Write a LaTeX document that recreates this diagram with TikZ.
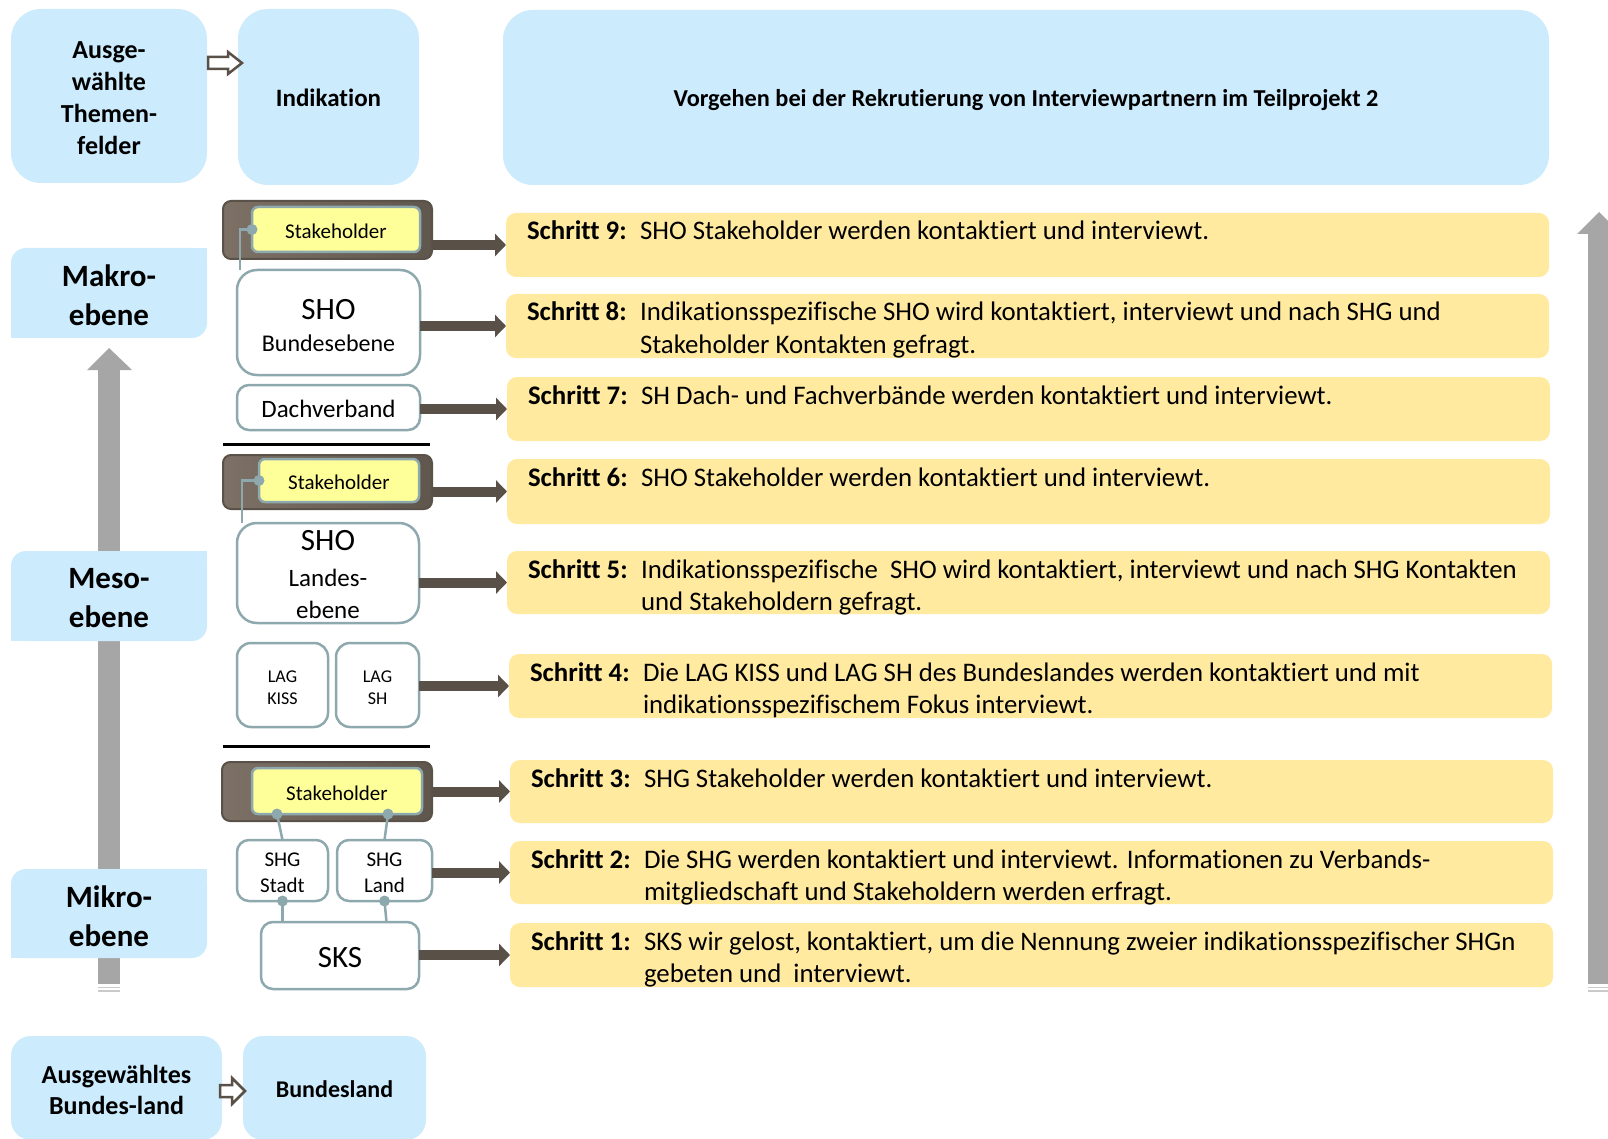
\documentclass[tikz,border=0pt]{standalone}
\usepackage{fontspec}
\setmainfont{Carlito}[Ligatures={NoCommon,NoRare}]
\usetikzlibrary{arrows.meta,calc}
\definecolor{lblue}{HTML}{CCEBFD}
\definecolor{stepy}{HTML}{FFEAA0}
\definecolor{stky}{HTML}{FFFF99}
\definecolor{tealg}{HTML}{8EA9AE}
\definecolor{brnA}{HTML}{7D7166}
\definecolor{brnB}{HTML}{5F564D}
\definecolor{brnD}{HTML}{5A5148}
\definecolor{darr}{HTML}{595047}
\definecolor{garr}{HTML}{A6A6A6}
\newcommand{\fsz}[2]{\fontsize{#1}{#2}\selectfont}
\begin{document}
\begin{tikzpicture}[x=1pt,y=-1pt,
 every node/.style={inner sep=0pt, outer sep=0pt},
 bx/.style={anchor=north west},
 tx/.style={align=center, anchor=center},
 lb/.style={bx, fill=lblue, rounded corners=30pt},
 lvl/.style={bx, fill=lblue, rounded corners=15pt, minimum width=196pt, minimum height=90pt},
 lvltx/.style={tx, font=\bfseries\fsz{31}{39}, yshift=-2.5pt},
 stepbox/.style={anchor=north west, fill=stepy, rounded corners=10pt, minimum width=1043pt, minimum height=63pt},
 lbl/.style={anchor=base west, font=\bfseries\fsz{26.8}{32}},
 dsc/.style={anchor=base west, font=\fsz{26.8}{32}},
 wbox/.style={bx, draw=tealg, line width=2.5pt, fill=white, rounded corners=14pt},
 outerst/.style={anchor=north west, left color=brnA, right color=brnB, draw=brnD, line width=2pt, rounded corners=8pt},
 innerst/.style={bx, fill=stky, draw=tealg, line width=2.5pt, rounded corners=6pt},
 sttx/.style={tx, font=\fsz{21}{25}, yshift=-2pt},
 bigarr/.style={draw=darr, line width=10pt, -{Triangle[length=11pt,width=22pt]}},
 conn/.style={draw=tealg, line width=2.5pt},
 hollow/.style={draw=darr, fill=white, line width=2.5pt, line join=miter},
 sepline/.style={draw=black, line width=3pt},
]
\path[use as bounding box] (0,0) rectangle (1608,1139);
\clip (0,0) rectangle (1608,1139);
\fill[white] (0,0) rectangle (1608,1139);

% gray vertical arrows
\fill[garr] (98,370) rectangle (120,984);
\fill[garr] (87,370) -- (109,348) -- (132,370) -- cycle;
\draw[garr!60, line width=1.2pt] (98,987.5) -- (120,987.5) (98,991) -- (120,991);
\fill[garr] (1588,234) rectangle (1610,984);
\fill[garr] (1577,234) -- (1599,212) -- (1621,234) -- cycle;
\draw[garr!60, line width=1.2pt] (1588,987.5) -- (1610,987.5) (1588,991) -- (1610,991);

% top row
\node[lb, minimum width=196pt, minimum height=174pt] (themen) at (11,9) {};
\node[tx, font=\bfseries\fsz{26}{32}, yshift=-2pt] (thement) at (themen) {Ausge-\\wählte\\Themen-\\felder};
\node[lb, minimum width=181pt, minimum height=176pt] (indik) at (238,9) {};
\node[tx, font=\bfseries\fsz{25}{30}, yshift=-1pt] (indikt) at (indik) {Indikation};
\node[lb, minimum width=1046pt, minimum height=175pt] (vorg) at (503,10) {};
\node[tx, font=\bfseries\fsz{24.3}{30}, yshift=-3pt] (vorgt) at (vorg) {Vorgehen bei der Rekrutierung von Interviewpartnern im Teilprojekt 2};
\draw[hollow] (208,57) -- (228,57) -- (228,52) -- (242,63) -- (228,74) -- (228,69) -- (208,69) -- cycle;

% level boxes
\node[lvl] (makro) at (11,248) {};
\node[lvl] (meso) at (11,551) {};
\node[lvl, minimum height=89pt] (mikro) at (11,869) {};
\foreach \n in {makro,meso,mikro}{
  \fill[lblue] (\n.north east) rectangle ++(-16,16);
  \fill[lblue] (\n.south west) rectangle ++(16,-16);
}
\node[lvltx] (makrot) at (makro) {Makro-\\ebene};
\node[lvltx] (mesot) at (meso) {Meso-\\ebene};
\node[lvltx] (mikrot) at (mikro) {Mikro-\\ebene};

% bottom row
\node[lb, minimum width=211pt, minimum height=104pt, rounded corners=20pt] (ausgbl) at (11,1036) {};
\node[tx, font=\bfseries\fsz{26}{31}, yshift=-1.5pt] (ausgblt) at (ausgbl) {Ausgewähltes\\Bundes-land};
\node[lb, minimum width=183pt, minimum height=104pt, rounded corners=20pt] (bland) at (243,1036) {};
\node[tx, font=\bfseries\fsz{24}{30}, yshift=-1pt] (blandt) at (bland) {Bundesland};
\draw[hollow] (220,1085) -- (232,1085) -- (232,1078) -- (245,1091) -- (232,1104) -- (232,1097) -- (220,1097) -- cycle;

% step boxes
\node[stepbox, minimum height=64pt] (s9) at (506,213) {};
\node[stepbox, minimum height=64pt] (s8) at (506,294) {};
\node[stepbox, minimum height=64pt] (s7) at (507,377) {};
\node[stepbox, minimum height=65pt] (s6) at (507,459) {};
\node[stepbox] (s5) at (507,551) {};
\node[stepbox, minimum height=64pt] (s4) at (509,654) {};
\node[stepbox] (s3) at (510,760) {};
\node[stepbox] (s2) at (510,841) {};
\node[stepbox, minimum height=64pt] (s1) at (510,923) {};

\node[lbl] (l9) at ($(s9.north west)+(21,27)$) {Schritt 9:};
\node[dsc] (d9) at ($(s9.north west)+(134,27)$) {SHO Stakeholder werden kontaktiert und interviewt.};
\node[lbl] (l8) at ($(s8.north west)+(21,27)$) {Schritt 8:};
\node[dsc] (d8a) at ($(s8.north west)+(134,27)$) {Indikationsspezifische SHO wird kontaktiert, interviewt und nach SHG und};
\node[dsc] (d8b) at ($(s8.north west)+(134,59)$) {Stakeholder Kontakten gefragt.};
\node[lbl] (l7) at ($(s7.north west)+(21,27)$) {Schritt 7:};
\node[dsc] (d7) at ($(s7.north west)+(134,27)$) {SH Dach- und Fachverbände werden kontaktiert und interviewt.};
\node[lbl] (l6) at ($(s6.north west)+(21,27)$) {Schritt 6:};
\node[dsc] (d6) at ($(s6.north west)+(134,27)$) {SHO Stakeholder werden kontaktiert und interviewt.};
\node[lbl] (l5) at ($(s5.north west)+(21,27)$) {Schritt 5:};
\node[dsc] (d5a) at ($(s5.north west)+(134,27)$) {Indikationsspezifische\ \ SHO wird kontaktiert, interviewt und nach SHG Kontakten};
\node[dsc] (d5b) at ($(s5.north west)+(134,59)$) {und Stakeholdern gefragt.};
\node[lbl] (l4) at ($(s4.north west)+(21,27)$) {Schritt 4:};
\node[dsc] (d4a) at ($(s4.north west)+(134,27)$) {Die LAG KISS und LAG SH des Bundeslandes werden kontaktiert und mit};
\node[dsc] (d4b) at ($(s4.north west)+(134,59)$) {indikationsspezifischem Fokus interviewt.};
\node[lbl] (l3) at ($(s3.north west)+(21,27)$) {Schritt 3:};
\node[dsc] (d3) at ($(s3.north west)+(134,27)$) {SHG Stakeholder werden kontaktiert und interviewt.};
\node[lbl] (l2) at ($(s2.north west)+(21,27)$) {Schritt 2:};
\node[dsc] (d2a) at ($(s2.north west)+(134,27)$) {Die SHG werden kontaktiert und interviewt. Informationen zu Verbands-};
\node[dsc] (d2b) at ($(s2.north west)+(134,59)$) {mitgliedschaft und Stakeholdern werden erfragt.};
\node[lbl] (l1) at ($(s1.north west)+(21,27)$) {Schritt 1:};
\node[dsc] (d1a) at ($(s1.north west)+(134,27)$) {SKS wir gelost, kontaktiert, um die Nennung zweier indikationsspezifischer SHGn};
\node[dsc] (d1b) at ($(s1.north west)+(134,59)$) {gebeten und\ \ interviewt.};

% left column: Makro
\node[outerst, minimum width=209pt, minimum height=58pt] (st1o) at (223,201) {};
\node[innerst, minimum width=168pt, minimum height=45pt] (st1i) at (252,207) {};
\node[sttx] (st1t) at (st1i) {Stakeholder};
\node[wbox, minimum width=183pt, minimum height=105pt, rounded corners=20pt] (sho1) at (237,270) {};
\node[tx, font=\fsz{24}{32}, yshift=-3.5pt] (sho1t) at (sho1) {{\fsz{31}{32}SHO}\\Bundesebene};
\node[wbox, minimum width=183pt, minimum height=45pt, rounded corners=12pt] (dach) at (237,385) {};
\node[tx, font=\fsz{25}{30}, yshift=-1pt] (dacht) at (dach) {Dachverband};
\draw[sepline] (223,444) -- (430,444);

% Meso
\node[outerst, minimum width=209pt, minimum height=54pt] (st2o) at (223,455) {};
\node[innerst, minimum width=160pt, minimum height=43pt] (st2i) at (259,459) {};
\node[sttx] (st2t) at (st2i) {Stakeholder};
\node[wbox, minimum width=182pt, minimum height=100pt, rounded corners=20pt] (sho2) at (237,523) {};
\node[tx, font=\fsz{25}{32}, yshift=-2pt] (sho2t) at (sho2) {{\fsz{31}{32}SHO}\\[4pt]Landes-\\ebene};
\node[wbox, minimum width=91pt, minimum height=84pt] (lagk) at (237,643) {};
\node[tx, font=\fsz{18}{22}, yshift=-3pt] (lagkt) at (lagk) {LAG\\KISS};
\node[wbox, minimum width=83pt, minimum height=84pt] (lagsh) at (336,643) {};
\node[tx, font=\fsz{18}{22}, yshift=-3pt] (lagsht) at (lagsh) {LAG\\SH};
\draw[sepline] (223,746) -- (430,746);

% Mikro
\node[outerst, minimum width=210pt, minimum height=59pt] (st3o) at (222,762) {};
\node[innerst, minimum width=170pt, minimum height=46pt] (st3i) at (252,768) {};
\node[sttx] (st3t) at (st3i) {Stakeholder};
\node[wbox, minimum width=91pt, minimum height=61pt, rounded corners=12pt] (shgs) at (237,840) {};
\node[tx, font=\fsz{21}{26}, yshift=-2pt] (shgst) at (shgs) {SHG\\Stadt};
\node[wbox, minimum width=95pt, minimum height=61pt, rounded corners=12pt] (shgl) at (337,840) {};
\node[tx, font=\fsz{21}{26}, yshift=-2pt] (shglt) at (shgl) {SHG\\Land};
\node[wbox, minimum width=158pt, minimum height=67pt, rounded corners=12pt] (sks) at (261,922) {};
\node[tx, font=\fsz{31}{34}, yshift=-2pt] (skst) at (sks) {SKS};

% connectors
\draw[conn] (st1i.west) -| ($(sho1.north west)+(3,0)$);
\fill[tealg] (st1i.west) circle (5.5pt);
\draw[conn] (st2i.west) -| ($(sho2.north west)+(5,0)$);
\fill[tealg] (st2i.west) circle (5.5pt);
\coordinate (dt1) at ($(st3i.south west)+(25,0)$);
\coordinate (dt2) at ($(st3i.south west)+(136,0)$);
\draw[conn] (dt1) -- (shgs.north);
\draw[conn] (dt2) -- (shgl.north);
\draw[conn] (shgs.south) -- (shgs.south |- sks.north);
\draw[conn] (shgl.south) -- ($(shgl.south |- sks.north)+(2,0)$);
\foreach \p in {dt1,dt2,shgs.south,shgl.south}{ \fill[tealg] (\p) circle (5.5pt); }

% big arrows
\draw[bigarr] (st1o.east |- s9.west) -- (s9.west);
\draw[bigarr] (sho1.east |- s8.west) -- (s8.west);
\draw[bigarr] (dach.east |- s7.west) -- (s7.west);
\draw[bigarr] (st2o.east |- s6.west) -- (s6.west);
\draw[bigarr] (sho2.east |- s5.west) -- (s5.west);
\draw[bigarr] (lagsh.east |- s4.west) -- (s4.west);
\draw[bigarr] (st3o.east |- s3.west) -- (s3.west);
\draw[bigarr] (shgl.east |- s2.west) -- (s2.west);
\draw[bigarr] (sks.east |- s1.west) -- (s1.west);
\end{tikzpicture}
\end{document}
